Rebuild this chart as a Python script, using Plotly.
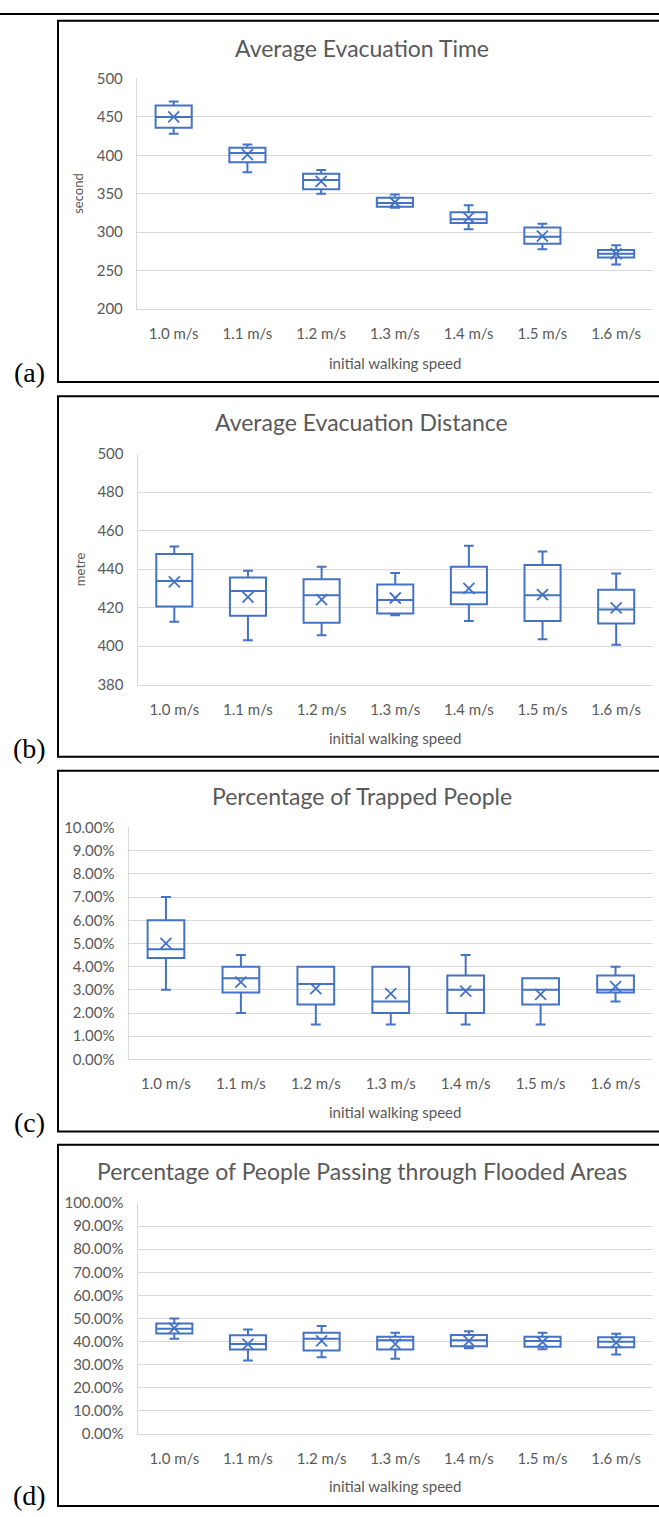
import plotly.graph_objects as go

W, H = 659, 1517

categories = ["1.0 m/s", "1.1 m/s", "1.2 m/s", "1.3 m/s", "1.4 m/s", "1.5 m/s", "1.6 m/s"]

# (a) Average Evacuation Time (second)
time_min = [428, 378, 350, 332, 304, 278, 258]
time_q1 = [436, 391, 356, 333, 312, 285, 267]
time_med = [450, 403, 368, 338, 317, 294, 272]
time_q3 = [465, 410, 376, 345, 326, 306, 277]
time_max = [470, 414, 381, 349, 335, 311, 283]
time_mean = [450, 401, 366, 339, 319, 295, 272]

# (b) Average Evacuation Distance (metre)
dist_min = [412.7, 403.1, 405.7, 416.1, 413.0, 403.5, 400.7]
dist_q1 = [420.6, 415.8, 412.2, 417.0, 421.8, 413.0, 411.7]
dist_med = [433.8, 428.6, 426.4, 424.0, 427.9, 426.4, 419.0]
dist_q3 = [447.8, 435.6, 434.8, 432.0, 441.3, 442.1, 429.3]
dist_max = [451.7, 439.1, 441.3, 438.0, 452.1, 449.2, 437.7]
dist_mean = [433.4, 425.4, 424.2, 425.0, 430.0, 426.7, 419.9]

# (c) Percentage of Trapped People
trap_min = [0.030, 0.020, 0.015, 0.015, 0.015, 0.015, 0.025]
trap_q1 = [0.0437, 0.0288, 0.0237, 0.020, 0.020, 0.0237, 0.0288]
trap_med = [0.0475, 0.035, 0.0325, 0.025, 0.030, 0.030, 0.030]
trap_q3 = [0.060, 0.040, 0.040, 0.040, 0.0362, 0.035, 0.0362]
trap_max = [0.070, 0.045, 0.040, 0.040, 0.045, 0.035, 0.040]
trap_mean = [0.050, 0.0333, 0.0305, 0.0284, 0.0294, 0.0280, 0.0314]

# (d) Percentage of People Passing through Flooded Areas
flood_min = [0.412, 0.318, 0.332, 0.325, 0.371, 0.367, 0.344]
flood_q1 = [0.435, 0.366, 0.361, 0.366, 0.380, 0.377, 0.375]
flood_med = [0.455, 0.389, 0.412, 0.405, 0.405, 0.402, 0.399]
flood_q3 = [0.478, 0.427, 0.438, 0.421, 0.428, 0.421, 0.418]
flood_max = [0.500, 0.452, 0.467, 0.438, 0.445, 0.438, 0.434]
flood_mean = [0.458, 0.389, 0.403, 0.389, 0.403, 0.398, 0.395]

titles = ["Average Evacuation Time", "Average Evacuation Distance",
          "Percentage of Trapped People", "Percentage of People Passing through Flooded Areas"]
ytitles = ["second", "metre", None, None]
letters = ["(a)", "(b)", "(c)", "(d)"]

BLUE = "#4472C4"
GRAY = "#595959"
GRID = "#d9d9d9"
FONT = "Lato"

def px_x(x):
    return x / W

def px_y(y):
    return 1 - y / H

panels = [
    dict(data=(time_min, time_q1, time_med, time_q3, time_max, time_mean),
         x0=136.8, x1=653, y0=69.3, y1=302.7, rng=[200, 500], dtick=50, fmt="d",
         frame=(11, 376.5), title_y=38, xt_y=357, yt_x=78, lab_y=367),
    dict(data=(dist_min, dist_q1, dist_med, dist_q3, dist_max, dist_mean),
         x0=137.5, x1=653, y0=449, y1=682.7, rng=[380, 500], dtick=20, fmt="d",
         frame=(391, 755.7), title_y=416.7, xt_y=736.7, yt_x=80, lab_y=747),
    dict(data=(trap_min, trap_q1, trap_med, trap_q3, trap_max, trap_mean),
         x0=128.5, x1=653, y0=827.3, y1=1062, rng=[0, 0.10], dtick=0.01, fmt=".2%",
         frame=(770, 1135), title_y=795.7, xt_y=1115.3, yt_x=None, lab_y=1126),
    dict(data=(flood_min, flood_q1, flood_med, flood_q3, flood_max, flood_mean),
         x0=137.5, x1=653, y0=1207.3, y1=1441, rng=[0, 1.0], dtick=0.1, fmt=".2%",
         frame=(1148.3, 1514), title_y=1175, xt_y=1494, yt_x=None, lab_y=1503.5),
]

fig = go.Figure()
annotations = []
shapes = []
layout_axes = {}

for i, p in enumerate(panels):
    n = i + 1
    xa = "x" if n == 1 else f"x{n}"
    ya = "y" if n == 1 else f"y{n}"
    mn, q1, med, q3, mx, mean = p["data"]
    fig.add_trace(go.Box(
        x=categories, q1=q1, median=med, q3=q3, lowerfence=mn, upperfence=mx,
        xaxis=xa, yaxis=ya, boxpoints=False, width=0.49, whiskerwidth=0.27,
        line=dict(color=BLUE, width=2), fillcolor="rgba(255,255,255,0)",
        showlegend=False, hoverinfo="skip",
    ))
    fig.add_trace(go.Scatter(
        x=categories, y=mean, xaxis=xa, yaxis=ya, mode="markers",
        marker=dict(symbol="x-thin-open", size=11, line=dict(color=BLUE, width=1.8), color=BLUE),
        showlegend=False, hoverinfo="skip",
    ))
    xkey = "xaxis" if n == 1 else f"xaxis{n}"
    ykey = "yaxis" if n == 1 else f"yaxis{n}"
    layout_axes[xkey] = dict(
        domain=[px_x(p["x0"]), px_x(p["x1"])], anchor=ya,
        type="category", categoryorder="array", categoryarray=categories,
        range=[-0.5, 6.5], showgrid=False, zeroline=False,
        showline=True, linecolor=GRID, linewidth=1,
        tickfont=dict(family=FONT, size=15, color=GRAY), ticks="", ticklabelstandoff=11,
        fixedrange=True,
    )
    layout_axes[ykey] = dict(
        domain=[px_y(p["y1"]), px_y(p["y0"])], anchor=xa,
        range=p["rng"], dtick=p["dtick"], tick0=0, tickformat=p["fmt"],
        showgrid=True, gridcolor=GRID, gridwidth=1, zeroline=False,
        showline=True, linecolor=GRID, linewidth=1, mirror=False,
        tickfont=dict(family=FONT, size=15, color=GRAY), ticks="", ticklabelstandoff=10,
        fixedrange=True,
    )
    shapes.append(dict(type="rect", xref="paper", yref="paper",
                       x0=px_x(58), x1=px_x(700), y0=px_y(p["frame"][1]), y1=px_y(p["frame"][0]),
                       line=dict(color="black", width=2), fillcolor="rgba(0,0,0,0)"))
    annotations.append(dict(text=titles[i], xref="paper", yref="paper",
                            x=px_x(362), y=px_y(p["title_y"]), xanchor="center", yanchor="middle",
                            showarrow=False, font=dict(family=FONT, size=23, color=GRAY)))
    annotations.append(dict(text="initial walking speed", xref="paper", yref="paper",
                            x=px_x(395), y=px_y(p["xt_y"]), xanchor="center", yanchor="middle",
                            showarrow=False, font=dict(family=FONT, size=15, color=GRAY)))
    if ytitles[i]:
        annotations.append(dict(text=ytitles[i], xref="paper", yref="paper",
                                x=px_x(p["yt_x"]), y=px_y((p["y0"] + p["y1"]) / 2),
                                xanchor="center", yanchor="middle", textangle=-90,
                                showarrow=False, font=dict(family=FONT, size=13, color=GRAY)))
    annotations.append(dict(text=letters[i], xref="paper", yref="paper",
                            x=px_x(29), y=px_y(p["lab_y"]), xanchor="center", yanchor="middle",
                            showarrow=False, font=dict(family="Liberation Serif", size=28, color="black")))

shapes.append(dict(type="line", xref="paper", yref="paper", x0=0, x1=1,
                   y0=px_y(4), y1=px_y(4), line=dict(color="black", width=2)))

fig.update_layout(
    width=W, height=H, margin=dict(l=0, r=0, t=0, b=0),
    paper_bgcolor="white", plot_bgcolor="white",
    annotations=annotations, shapes=shapes, showlegend=False,
    **layout_axes,
)

fig.write_html("out.html")
